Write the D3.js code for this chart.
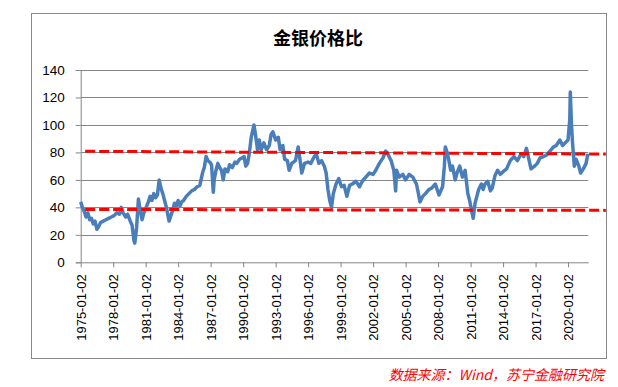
<!DOCTYPE html>
<html lang="zh">
<head>
    <meta charset="UTF-8">
    <title>金银价格比</title>
    <script src="https://cdn.jsdelivr.net/npm/d3@7"></script>
    <style>
        body{margin: 0; background: #fff}
        svg text{font-family: "Liberation Sans", Arial, sans-serif}
        svg .line{fill: none; stroke: #4a7ebb; stroke-width: 3.5; stroke-linejoin: round}
        svg .ref{stroke: #ff0000; stroke-width: 3; stroke-dasharray: 10 4}
        svg .grid line{stroke: #868686}
    </style>
</head>
<body>
    <svg></svg>
    <script>
        var dates = [
            '1975-01','1975-03','1975-05','1975-07','1975-09','1975-11','1976-01','1976-03','1976-05','1976-07',
            '1976-09','1976-11','1977-02','1977-05','1977-08','1977-11','1978-02','1978-05','1978-08','1978-10',
            '1978-12','1979-03','1979-05','1979-08','1979-10','1979-12','1980-01','1980-03','1980-05','1980-07',
            '1980-09','1980-11','1981-01','1981-04','1981-06','1981-08','1981-10','1981-12','1982-02','1982-04',
            '1982-06','1982-08','1982-10','1982-12','1983-03','1983-05','1983-07','1983-09','1983-11','1984-01',
            '1984-03','1984-05','1984-07','1984-10','1985-01','1985-04','1985-07','1985-10','1986-01','1986-04',
            '1986-06','1986-08','1986-10','1986-12','1987-02','1987-04','1987-05','1987-07','1987-09','1987-11',
            '1988-01','1988-03','1988-05','1988-08','1988-10','1989-01','1989-04','1989-06','1989-09','1989-12',
            '1990-02','1990-04','1990-06','1990-08','1990-10','1991-01','1991-03','1991-05','1991-07','1991-09',
            '1991-12','1992-03','1992-06','1992-08','1992-10','1993-01','1993-04','1993-06','1993-09','1993-11',
            '1994-02','1994-04','1994-07','1994-11','1995-02','1995-04','1995-06','1995-09','1996-01','1996-04',
            '1996-07','1996-10','1997-01','1997-04','1997-07','1997-09','1997-11','1998-01','1998-03','1998-05',
            '1998-08','1998-11','1999-02','1999-05','1999-08','1999-11','2000-02','2000-06','2000-10','2001-01',
            '2001-05','2001-09','2002-01','2002-04','2002-08','2002-12','2003-03','2003-06','2003-09','2003-12',
            '2004-02','2004-03','2004-06','2004-10','2005-01','2005-05','2005-09','2006-01','2006-03','2006-05',
            '2006-08','2006-11','2007-03','2007-06','2007-10','2008-02','2008-06','2008-08','2008-09','2008-11',
            '2009-01','2009-03','2009-05','2009-08','2009-10','2010-01','2010-04','2010-07','2010-10','2010-12',
            '2011-02','2011-04','2011-06','2011-08','2011-10','2012-01','2012-03','2012-05','2012-08','2012-11',
            '2013-01','2013-04','2013-07','2013-10','2014-01','2014-05','2014-09','2015-01','2015-05','2015-09',
            '2015-12','2016-03','2016-05','2016-08','2016-12','2017-03','2017-06','2017-10','2018-01','2018-05',
            '2018-09','2018-12','2019-04','2019-07','2019-10','2020-01','2020-03','2020-03-18','2020-04','2020-05',
            '2020-06','2020-08','2020-10','2021-01','2021-03','2021-06','2021-09','2021-11'
        ]
        var ratio = [
            44,40,37,33,36,31,32,28,30,24,
            26,29,30,31,32,33,34,36,35,40,
            36,33,35,30,27,16,14,25,46,38,
            31,36,39,44,48,45,50,47,49,60,
            54,50,45,40,30,34,38,43,41,45,
            41,44,45,48,50,52,53,55,56,65,
            69,77,74,73,71,51,60,67,72,69,
            67,60,68,66,71,69,73,72,75,76,
            77,70,72,80,91,100,92,82,89,82,
            87,82,85,93,95,89,91,82,85,75,
            74,67,72,74,84,75,65,72,73,72,
            76,79,72,74,70,65,53,45,40,50,
            57,61,55,56,48,56,57,59,55,59,
            62,65,64,67,72,76,81,78,74,67,
            52,67,62,64,60,64,62,57,51,44,
            48,50,53,54,57,49,55,70,84,80,
            74,67,70,60,65,70,62,67,50,45,
            38,32,43,48,53,57,53,57,59,52,
            54,63,67,64,66,68,74,77,74,79,
            77,83,77,68,70,72,76,77,78,81,
            84,85,89,85,87,89,104,124,115,99,
            87,70,75,70,65,68,72,79
        ]
        // red dashed reference lines: [start value, end value]
        var refStart = '1975-06', refEnd = '2023-07'
        var upperRef = [80.8, 78.8]
        var lowerRef = [38.5, 37.8]

        var yTicks = [0, 20, 40, 60, 80, 100, 120, 140]
        var xTickLabels = ['1975-01-02','1978-01-02','1981-01-02','1984-01-02','1987-01-02','1990-01-02',
            '1993-01-02','1996-01-02','1999-01-02','2002-01-02','2005-01-02','2008-01-02','2011-01-02',
            '2014-01-02','2017-01-02','2020-01-02']

        var parse = s => s.length > 7 ? d3.timeParse('%Y-%m-%d')(s) : d3.timeParse('%Y-%m')(s)
        var data = dates.map((d, i) => ({date: parse(d), value: ratio[i]}))

        var width = 618, height = 387
        var plot = {left: 80.7, right: 588.3, top: 70, bottom: 262.3}

        var svg = d3.select('svg')
            .attr('width', width)
            .attr('height', height)

        // chart border
        svg.append('rect')
            .attr('x', 31.5).attr('y', 13.5)
            .attr('width', 575).attr('height', 345)
            .attr('fill', '#fff')
            .attr('stroke', '#888')

        var xScale = d3.scaleTime()
            .domain([parse('1975-01-02'), parse('2021-11-15')])
            .range([plot.left, plot.right])
        var yScale = d3.scaleLinear()
            .domain([0, 140])
            .range([plot.bottom, plot.top])

        // gridlines
        svg.append('g')
            .attr('class', 'grid')
            .selectAll('line')
            .data(yTicks.slice(1))
            .enter()
            .append('line')
            .attr('x1', plot.left).attr('x2', plot.right)
            .attr('y1', d => Math.round(yScale(d)) + 0.5)
            .attr('y2', d => Math.round(yScale(d)) + 0.5)

        // y axis
        var yAxis = d3.axisLeft(yScale)
            .tickValues(yTicks)
            .tickSize(5)
            .tickPadding(11)
        var gy = svg.append('g')
            .attr('transform', `translate(${plot.left}, 0)`)
            .call(yAxis)
        gy.selectAll('path, line').attr('stroke', '#868686')
        gy.selectAll('text').attr('font-size', 13.5).attr('fill', '#000')

        // x axis
        var xAxis = d3.axisBottom(xScale)
            .tickValues(xTickLabels.map(parse))
            .tickFormat(d3.timeFormat('%Y-%m-%d'))
            .tickSize(5)
            .tickSizeOuter(0)
        var gx = svg.append('g')
            .attr('transform', `translate(0, ${plot.bottom})`)
            .call(xAxis)
        gx.selectAll('path, line').attr('stroke', '#868686')
        gx.selectAll('text')
            .attr('font-size', 13)
            .attr('fill', '#000')
            .attr('transform', 'rotate(-90)')
            .attr('text-anchor', 'end')
            .attr('x', -12)
            .attr('y', 0)
            .attr('dy', '0.35em')

        // line
        var line = d3.line()
            .x(d => xScale(d.date))
            .y(d => yScale(d.value))

        svg.append('path')
            .datum(data)
            .attr('class', 'line')
            .attr('d', line)

        // reference lines
        svg.selectAll('.ref')
            .data([upperRef, lowerRef])
            .enter()
            .append('line')
            .attr('class', 'ref')
            .attr('x1', xScale(parse(refStart)))
            .attr('x2', xScale(parse(refEnd)))
            .attr('y1', d => yScale(d[0]))
            .attr('y2', d => yScale(d[1]))

        // title
        svg.append('text')
            .attr('x', 318)
            .attr('y', 45)
            .attr('text-anchor', 'middle')
            .attr('font-size', 18)
            .attr('font-weight', 'bold')
            .style('font-family', '"Noto Sans CJK SC", sans-serif')
            .text('金银价格比')

        // source
        svg.append('text')
            .attr('x', 604)
            .attr('y', 380)
            .attr('text-anchor', 'end')
            .attr('font-size', 14)
            .attr('font-style', 'italic')
            .attr('fill', '#ff0000')
            .style('font-family', '"Noto Sans CJK SC", sans-serif')
            .text('数据来源：Wind，苏宁金融研究院')
    </script>
</body>
</html>
